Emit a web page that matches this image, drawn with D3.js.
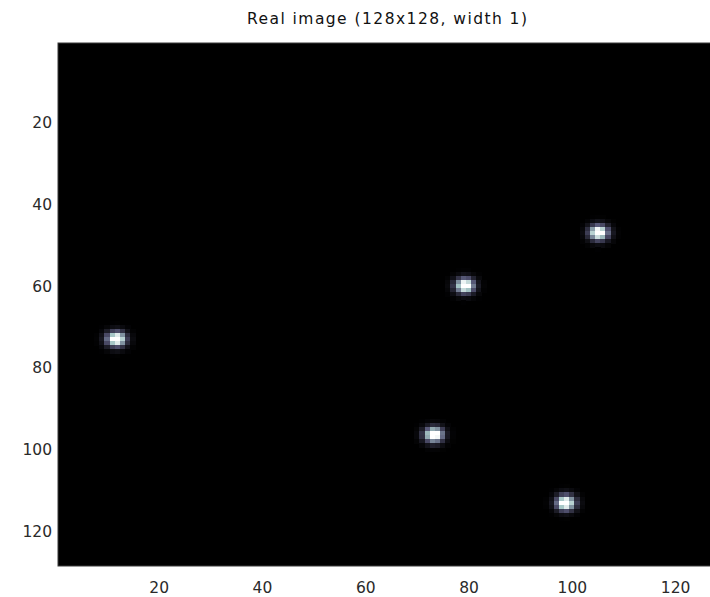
<!DOCTYPE html>
<html><head><meta charset="utf-8">
<script src="https://cdn.jsdelivr.net/npm/d3@7"></script>
<style>body{margin:0;background:#fff}svg{display:block}</style>
</head><body>
<script>
// Data: image size, spot centers (column, row), spot width
const imageSize = 128;
const spotX = [11.8, 79.3, 105.2, 73.3, 98.8];
const spotY = [73.0, 59.9, 46.9, 96.4, 113.0];
const spotAmp = [1, 1, 1, 1, 1];
const spotWidth = 1.25;
const xTicks = [20, 40, 60, 80, 100, 120];
const yTicks = [20, 40, 60, 80, 100, 120];
const titleText = "Real image (128x128, width 1)";

const W = 710, H = 597;
const svg = d3.select("body").append("svg").attr("width", W).attr("height", H);

const x = d3.scaleLinear().domain([0.5, imageSize + 0.5]).range([58, 719]);
const y = d3.scaleLinear().domain([0.5, imageSize + 0.5]).range([43, 566]);

const cells = [];
for (let r = 1; r <= imageSize; r++) {
  for (let c = 1; c <= imageSize; c++) {
    let v = 0;
    for (let k = 0; k < spotX.length; k++) {
      const dx = c - spotX[k], dy = r - spotY[k];
      v += spotAmp[k] * Math.exp(-(dx * dx + dy * dy) / (2 * spotWidth * spotWidth));
    }
    if (v > 0.004) cells.push({ c, r, v });
  }
}
const vmax = d3.max(cells, d => d.v);
const clamp = t => Math.max(0, Math.min(1, t));
function bone(t) {
  t = clamp(t);
  const hr = clamp(t / 0.375), hg = clamp((t - 0.375) / 0.375), hb = clamp((t - 0.75) / 0.25);
  const R = (7 * t + hb) / 8, G = (7 * t + hg) / 8, B = (7 * t + hr) / 8;
  return d3.rgb(R * 255, G * 255, B * 255);
}
const color = d3.scaleLinear().domain([0, vmax * 0.8]).range([0, 1]);

svg.append("rect").attr("x", x(0.5)).attr("y", y(0.5))
  .attr("width", x(imageSize + 0.5) - x(0.5)).attr("height", y(imageSize + 0.5) - y(0.5))
  .attr("fill", "#000");

svg.append("g").selectAll("rect").data(cells).join("rect")
  .attr("x", d => x(d.c - 0.5)).attr("y", d => y(d.r - 0.5))
  .attr("width", x(1.5) - x(0.5) + 0.3).attr("height", y(1.5) - y(0.5) + 0.3)
  .attr("fill", d => bone(color(d.v)))
  .attr("shape-rendering", "crispEdges");

svg.append("rect").attr("x", x(0.5)).attr("y", y(0.5))
  .attr("width", x(imageSize + 0.5) - x(0.5)).attr("height", y(imageSize + 0.5) - y(0.5))
  .attr("fill", "none").attr("stroke", "#3a3a3a").attr("stroke-width", 1);

const fontFam = "'DejaVu Sans', sans-serif";
const gx = svg.append("g").attr("transform", `translate(0,${y(imageSize + 0.5)})`)
  .call(d3.axisBottom(x).tickValues(xTicks).tickSize(0).tickPadding(16));
const gy = svg.append("g").attr("transform", `translate(${x(0.5)},0)`)
  .call(d3.axisLeft(y).tickValues(yTicks).tickSize(0).tickPadding(6));
[gx, gy].forEach(g => {
  g.select(".domain").remove();
  g.selectAll("text").attr("font-family", fontFam).attr("font-size", 15.5).attr("fill", "#2a2a2a");
});

svg.append("text").attr("x", 387).attr("y", 24).attr("text-anchor", "middle")
  .attr("font-family", fontFam).attr("font-size", 15.5).attr("fill", "#111")
  .attr("textLength", 280).attr("lengthAdjust", "spacing")
  .text(titleText);
</script>
</body></html>
